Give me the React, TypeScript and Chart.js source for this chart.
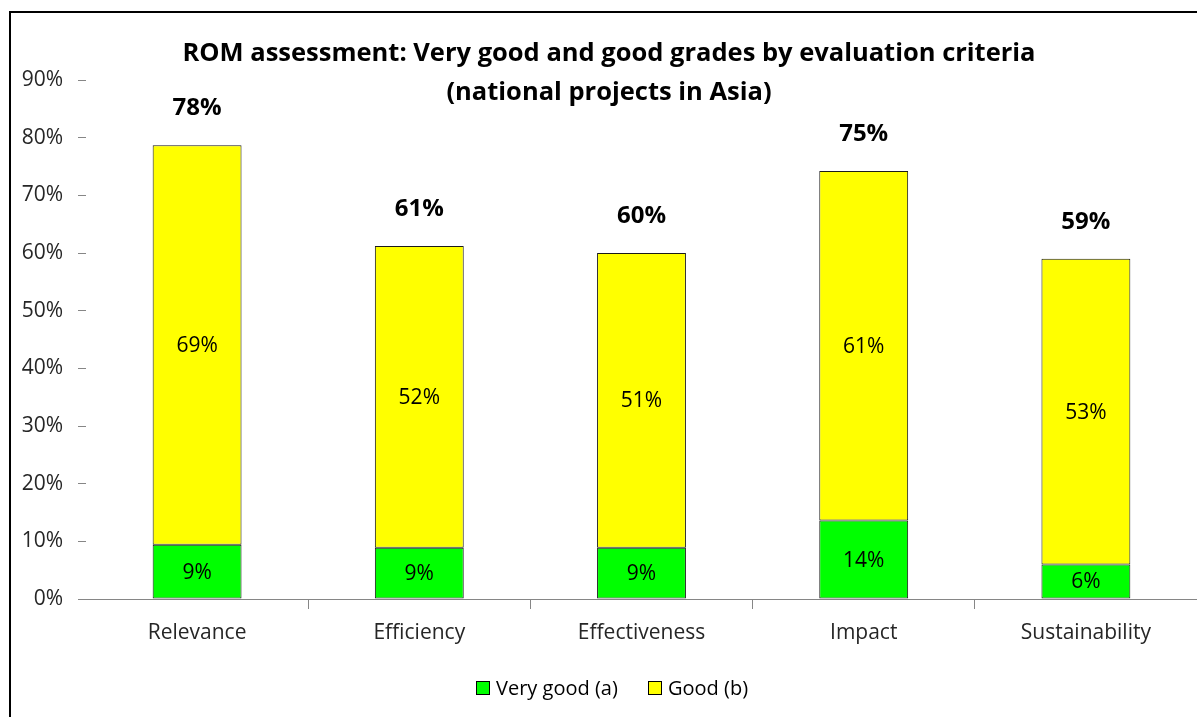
import React, { useEffect, useRef } from "react";
import { Chart, registerables } from "chart.js";

Chart.register(...registerables);

const categories = ["Relevance", "Efficiency", "Effectiveness", "Impact", "Sustainability"];
const veryGood = [9.4, 8.9, 8.9, 13.6, 6.0];
const good = [69.3, 52.3, 51.1, 60.6, 53.0];
const totalLabels = [78, 61, 60, 75, 59];
const seriesNames = ["Very good (a)", "Good (b)"];
const titleLines = [
  "ROM assessment: Very good and good grades by evaluation criteria",
  "(national projects in Asia)",
];

const FONT = "'Open Sans', Lato, sans-serif";
const GREEN = "#00FF00";
const YELLOW = "#FFFF00";

const decorPlugin = {
  id: "decor",
  beforeDraw(chart: any) {
    const ctx = chart.ctx;
    ctx.save();
    ctx.fillStyle = "#ffffff";
    ctx.fillRect(0, 0, chart.width, chart.height);
    ctx.fillStyle = "#000000";
    ctx.fillRect(9, 11, 2, chart.height);
    ctx.fillRect(9, 11, chart.width, 2);
    ctx.restore();
  },
  afterDatasetsDraw(chart: any) {
    const ctx = chart.ctx;
    ctx.save();
    ctx.textAlign = "center";
    ctx.textBaseline = "middle";
    ctx.fillStyle = "#000000";
    ctx.font = `21px ${FONT}`;
    chart.data.datasets.forEach((ds: any, di: number) => {
      const meta = chart.getDatasetMeta(di);
      meta.data.forEach((el: any, i: number) => {
        const v = ds.data[i];
        const cy = (el.y + el.base) / 2;
        ctx.fillText(`${Math.round(v)}%`, el.x, cy + 1);
      });
    });
    // totals
    const top = chart.getDatasetMeta(chart.data.datasets.length - 1);
    ctx.font = `bold 24px ${FONT}`;
    top.data.forEach((el: any, i: number) => {
      ctx.fillText(`${totalLabels[i]}%`, el.x, el.y - 37);
    });
    // title
    ctx.font = `bold 25.5px ${FONT}`;
    ctx.textBaseline = "alphabetic";
    ctx.fillText(titleLines[0], 609, 61);
    ctx.fillText(titleLines[1], 609, 100);
    // legend
    ctx.textAlign = "left";
    ctx.font = `20px ${FONT}`;
    const items = [
      { x: 476, color: GREEN, label: seriesNames[0] },
      { x: 648, color: YELLOW, label: seriesNames[1] },
    ];
    items.forEach((it) => {
      ctx.fillStyle = it.color;
      ctx.fillRect(it.x, 681, 14, 14);
      ctx.strokeStyle = "#000";
      ctx.lineWidth = 1;
      ctx.strokeRect(it.x + 0.5, 681.5, 13, 13);
      ctx.fillStyle = "#000";
      ctx.fillText(it.label, it.x + 20, 695);
    });
    ctx.restore();
  },
};

export default function App() {
  const ref = useRef<HTMLCanvasElement | null>(null);
  useEffect(() => {
    if (!ref.current) return;
    const chart = new Chart(ref.current, {
      type: "bar",
      data: {
        labels: categories,
        datasets: [
          {
            label: seriesNames[0],
            data: veryGood,
            backgroundColor: GREEN,
            borderColor: "#1a1a1a",
            borderWidth: 1,
            borderSkipped: false,
          },
          {
            label: seriesNames[1],
            data: good,
            backgroundColor: YELLOW,
            borderColor: "#1a1a1a",
            borderWidth: 1,
            borderSkipped: false,
          },
        ],
      },
      options: {
        responsive: false,
        animation: false,
        layout: { padding: { top: 80, left: 0, right: 0, bottom: 0 } },
        datasets: { bar: { barPercentage: 0.4, categoryPercentage: 1 } },
        plugins: {
          legend: { display: false },
          title: { display: false },
          tooltip: { enabled: false },
        },
        scales: {
          x: {
            stacked: true,
            afterFit: (s: any) => {
              s.height = 118;
            },
            border: { display: true, color: "#868686", width: 1 },
            grid: {
              offset: true,
              drawOnChartArea: false,
              drawTicks: true,
              tickLength: 10,
              color: (c: any) => (c.index === 0 ? "rgba(0,0,0,0)" : "#868686"),
            },
            ticks: {
              padding: 11,
              color: "#262626",
              font: { family: FONT, size: 21 },
            },
          },
          y: {
            stacked: true,
            min: 0,
            max: 90,
            afterFit: (s: any) => {
              s.width = 86;
            },
            border: { display: false },
            grid: {
              drawOnChartArea: false,
              drawTicks: true,
              tickLength: 8,
              color: "#868686",
            },
            ticks: {
              stepSize: 10,
              padding: 15,
              color: "#262626",
              font: { family: FONT, size: 21 },
              callback: (v: any) => `${v}%`,
            },
          },
        },
      },
      plugins: [decorPlugin],
    });
    return () => chart.destroy();
  }, []);
  return (
    <div style={{ position: "fixed", left: 0, top: 0, width: 1197, height: 717, background: "#fff" }}>
      <canvas ref={ref} width={1197} height={717} />
    </div>
  );
}
